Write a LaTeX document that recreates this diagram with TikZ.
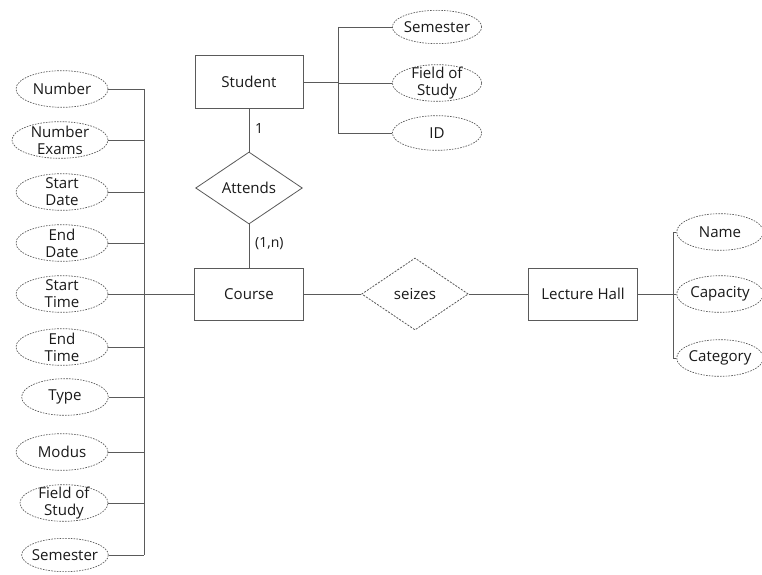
\documentclass[tikz,border=0pt]{standalone}
\usepackage{fontspec}
\setmainfont{Open Sans}
\usetikzlibrary{shapes.geometric}
\definecolor{edge}{HTML}{5A5A5A}
\definecolor{ink}{HTML}{1A1A1A}
\tikzset{
  line/.style={draw=edge, line width=0.6pt},
  lbl/.style={align=center, inner sep=0pt, font=\fontsize{11.3}{12.6}\selectfont, text=ink},
  attr/.style={ellipse, draw=edge, line width=0.5pt, dash pattern=on 1.2pt off 0.9pt,
    minimum width=69pt, minimum height=27.5pt, inner sep=0pt,
    label={[lbl]center:#1}},
  entity/.style={rectangle, draw=edge, line width=0.6pt, minimum width=82pt,
    minimum height=39pt, font=\fontsize{11.3}{13}\selectfont, text=ink},
  rel/.style={diamond, draw=edge, line width=0.6pt, minimum width=80pt,
    minimum height=54pt, inner sep=0pt, font=\fontsize{11.3}{13}\selectfont, text=ink},
  card/.style={font=\fontsize{10.5}{12}\selectfont, text=ink}
}
\begin{document}
\begin{tikzpicture}[x=0.75pt, y=-0.75pt]
\useasboundingbox (0,0) rectangle (762,574);
\fill[white] (0,0) rectangle (762,574);

% entities
\node[entity, minimum width=81pt, minimum height=40pt] (student) at (249,82) {Student};
\node[entity] (course) at (249,294) {Course};
\node[entity] (hall) at (583,294) {Lecture Hall};

% relationships
\node[rel] (attends) at (249,188) {Attends};
\node[rel, dash pattern=on 1.5pt off 1pt] (seizes) at (415,294) {seizes};

% course attributes
\node[attr={Number}] (c1) at (62,89) {};
\node[attr={Number\\Exams}, minimum width=72pt] (c2) at (60,140) {};
\node[attr={Start\\Date}] (c3) at (62,192) {};
\node[attr={End\\Date}] (c4) at (62,243) {};
\node[attr={Start\\Time}] (c5) at (62,294) {};
\node[attr={End\\Time}] (c6) at (62,347) {};
\node[attr={Type}, minimum width=65pt] (c7) at (65,397) {};
\node[attr={Modus}] (c8) at (62,452) {};
\node[attr={Field of\\Study}, minimum width=66pt] (c9) at (64,503) {};
\node[attr={Semester}, minimum width=65pt, minimum height=25pt] (c10) at (65,555) {};

% student attributes
\node[attr={Semester}, minimum width=67pt, minimum height=25pt] (s1) at (437,27) {};
\node[attr={Field of\\Study}, minimum width=67pt] (s2) at (437,83) {};
\node[attr={ID}, minimum width=67pt, minimum height=26pt] (s3) at (437,133) {};

% lecture hall attributes
\node[attr={Name}, minimum width=65pt] (h1) at (720,232) {};
\node[attr={Capacity}, minimum width=65pt] (h2) at (720,294) {};
\node[attr={Category}, minimum width=65pt] (h3) at (720,358) {};

% bus positions
\coordinate (lbus) at (144,0);
\coordinate (sbus) at (338,0);
\coordinate (hbus) at (673,0);

% course attribute bus
\draw[line] (c1.east -| lbus) -- (c10.east -| lbus);
\foreach \n in {c1,c2,c3,c4,c6,c7,c8,c9,c10}
  \draw[line] (\n.east) -- (\n.east -| lbus);
\draw[line] (c5.east) -- (course.west);

% student attribute bus
\draw[line] (s1.west -| sbus) -- (s3.west -| sbus);
\draw[line] (student.east) -- (student.east -| sbus);
\foreach \n in {s1,s2,s3}
  \draw[line] (\n.west) -- (\n.west -| sbus);

% lecture hall attribute bus
\draw[line] (h1.west -| hbus) -- (h3.west -| hbus);
\draw[line] (hall.east) -- (hall.east -| hbus);
\foreach \n in {h1,h2,h3}
  \draw[line] (\n.west) -- (\n.west -| hbus);

% relationship links
\draw[line] (student.south) -- node[card, right, pos=0.45, xshift=1pt] {1} (attends.north);
\draw[line] (attends.south) -- node[card, right, pos=0.45, xshift=1pt] {(1,n)} (course.north);
\draw[line] (course.east) -- (seizes.west);
\draw[line] (seizes.east) -- (hall.west);
\end{tikzpicture}
\end{document}
